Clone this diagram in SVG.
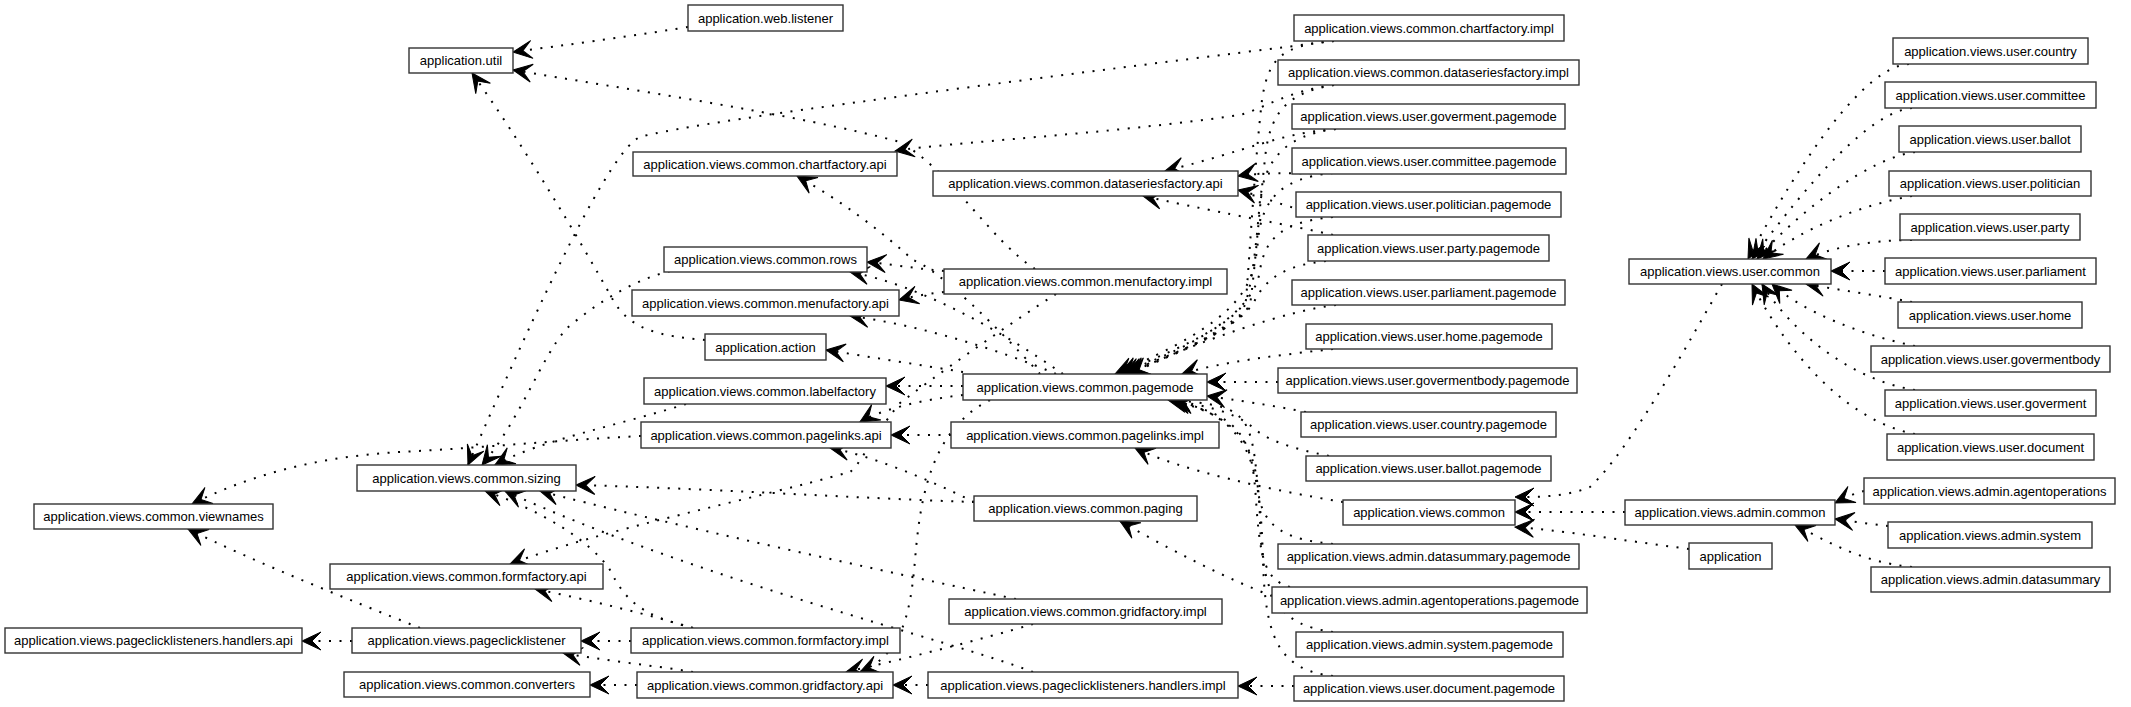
<svg xmlns="http://www.w3.org/2000/svg" width="2131" height="707" viewBox="0 0 2131 707">
<defs>
<style>
.n rect{fill:#fff;stroke:#333;stroke-width:1.4}
.n text{font-family:"Liberation Sans",Arial,sans-serif;font-size:13px;fill:#000;text-anchor:middle}
.e path{fill:none;stroke:#000;stroke-width:2;stroke-dasharray:2 8.5;marker-end:url(#vee)}
</style>
<marker id="vee" markerUnits="userSpaceOnUse" markerWidth="22" markerHeight="20" refX="19" refY="9" orient="auto" overflow="visible">
<path d="M0,0 L19,9 L0,18 L9,9 Z" fill="#000" stroke="#000" stroke-width="1" stroke-linejoin="miter"/>
</marker>
</defs>
<rect width="2131" height="707" fill="#fff"/>
<g id="edges" class="e">
<path d="M1909,64 C1865,66 1800,160 1748,259"/>
<path d="M1912,108 C1870,112 1810,180 1752,259"/>
<path d="M1915,152 C1870,158 1800,210 1757,259"/>
<path d="M1912,196 C1860,205 1800,230 1763,259"/>
<path d="M1912,240 C1870,240 1830,248 1806,259"/>
<path d="M1885,271 L1831,271"/>
<path d="M1912,302 C1880,296 1840,290 1806,284"/>
<path d="M1915,346 C1860,335 1800,310 1772,284"/>
<path d="M1915,390 C1850,380 1790,330 1762,284"/>
<path d="M1915,434 C1840,420 1780,340 1752,284"/>
<path d="M1722,284 C1690,340 1630,450 1590,487 C1565,497 1540,497 1515,497"/>
<path d="M1625,512 L1515,512"/>
<path d="M1689,549 C1620,540 1560,530 1515,527"/>
<path d="M1864,491 C1855,493 1845,498 1835,503"/>
<path d="M1888,526 C1870,524 1850,521 1835,519"/>
<path d="M1912,567 C1860,562 1825,540 1795,525"/>
<path d="M1343,502 C1270,490 1180,470 1135,448"/>
<path d="M1334,41 C1100,70 700,120 640,137 C610,150 540,300 468,465"/>
<path d="M1334,41 C1280,45 1268,60 1262,100 C1255,160 1250,250 1246,300 C1230,330 1160,355 1120,374"/>
<path d="M1334,85 C1290,90 1260,110 1240,115 C1100,135 950,142 895,151"/>
<path d="M1334,85 C1290,92 1272,110 1266,150 C1260,200 1255,270 1250,305 C1230,335 1165,358 1125,374"/>
<path d="M1336,129 C1280,133 1250,150 1165,171"/>
<path d="M1336,129 C1285,135 1265,160 1260,200 C1255,260 1250,300 1240,315 C1210,340 1160,360 1130,374"/>
<path d="M1333,173 C1290,174 1260,172 1238,176"/>
<path d="M1333,173 C1280,178 1262,200 1258,240 C1254,290 1240,320 1115,374"/>
<path d="M1333,217 C1290,210 1260,195 1238,190"/>
<path d="M1333,217 C1280,222 1265,240 1260,270 C1255,310 1200,345 1118,374"/>
<path d="M1333,235 C1290,225 1230,215 1143,196"/>
<path d="M1326,261 C1290,265 1268,275 1255,300 C1240,330 1170,355 1122,374"/>
<path d="M1336,305 C1290,310 1200,340 1128,374"/>
<path d="M1333,349 C1280,355 1220,362 1182,374"/>
<path d="M1278,382 L1207,382"/>
<path d="M1306,412 C1270,405 1235,400 1207,396"/>
<path d="M1329,456 C1290,448 1265,440 1250,425 C1230,410 1200,405 1170,400"/>
<path d="M1333,544 C1290,540 1262,530 1258,490 C1254,440 1250,420 1230,410 C1210,402 1190,402 1172,400"/>
<path d="M1290,587 C1265,580 1260,560 1256,500 C1252,440 1245,415 1168,400"/>
<path d="M1272,596 C1230,580 1170,550 1120,521"/>
<path d="M1333,632 C1280,625 1262,600 1260,520 C1258,450 1248,420 1172,400"/>
<path d="M1333,676 C1280,670 1265,640 1263,560 C1260,460 1250,420 1175,400"/>
<path d="M1294,686 L1238,686"/>
<path d="M688,27 C620,38 565,45 513,52"/>
<path d="M1035,269 C990,240 950,170 900,142 C800,115 620,88 513,70"/>
<path d="M705,340 C660,336 630,330 613,300 C580,240 520,140 472,73"/>
<path d="M944,271 C910,268 890,264 867,262"/>
<path d="M944,292 C925,294 910,297 899,300"/>
<path d="M1063,374 C1000,330 920,285 850,272"/>
<path d="M1056,374 C1000,350 920,325 850,316"/>
<path d="M963,372 C920,365 870,357 826,350"/>
<path d="M963,386 L886,386"/>
<path d="M963,395 C920,400 880,410 860,422"/>
<path d="M951,435 L891,435"/>
<path d="M974,502 C930,480 870,455 830,448"/>
<path d="M974,502 C850,498 700,488 576,485"/>
<path d="M1016,599 C900,575 650,520 540,491"/>
<path d="M693,628 C640,615 625,600 610,570 C590,540 540,510 485,491"/>
<path d="M1033,672 C950,640 700,580 505,491"/>
<path d="M693,628 C650,615 590,600 535,589"/>
<path d="M631,641 L581,641"/>
<path d="M693,672 C650,665 600,660 563,653"/>
<path d="M637,685 L590,685"/>
<path d="M928,685 L893,685"/>
<path d="M1033,624 C980,640 900,660 846,672"/>
<path d="M352,641 L302,641"/>
<path d="M420,628 C350,600 250,560 188,529"/>
<path d="M641,436 C560,440 480,448 400,452 C330,456 260,470 192,504"/>
<path d="M686,404 C620,425 540,440 495,465"/>
<path d="M680,269 C640,276 600,300 566,329 C540,360 520,420 482,465"/>
<path d="M1056,294 C1000,330 930,380 900,403 C870,440 860,465 850,472 C750,500 600,530 510,564"/>
<path d="M990,400 C930,430 920,500 915,560 C910,620 900,655 860,672"/>
<path d="M1040,374 C1000,330 940,270 913,260 C880,230 840,200 797,176"/>
</g>
<g id="n-util" class="n"><rect x="409" y="48" width="104" height="25"/><text x="461" y="65">application.util</text></g>
<g id="n-web-listener" class="n"><rect x="688" y="5" width="155" height="26"/><text x="765.5" y="22.5">application.web.listener</text></g>
<g id="n-chartfactory-impl" class="n"><rect x="1294" y="15" width="270" height="26"/><text x="1429" y="32.5">application.views.common.chartfactory.impl</text></g>
<g id="n-dataseriesfactory-impl" class="n"><rect x="1278" y="60" width="301" height="25"/><text x="1428.5" y="77">application.views.common.dataseriesfactory.impl</text></g>
<g id="n-goverment-pagemode" class="n"><rect x="1292" y="104" width="273" height="25"/><text x="1428.5" y="121">application.views.user.goverment.pagemode</text></g>
<g id="n-committee-pagemode" class="n"><rect x="1292" y="148" width="274" height="26"/><text x="1429" y="165.5">application.views.user.committee.pagemode</text></g>
<g id="n-politician-pagemode" class="n"><rect x="1296" y="192" width="265" height="25"/><text x="1428.5" y="209">application.views.user.politician.pagemode</text></g>
<g id="n-party-pagemode" class="n"><rect x="1308" y="235" width="241" height="26"/><text x="1428.5" y="252.5">application.views.user.party.pagemode</text></g>
<g id="n-parliament-pagemode" class="n"><rect x="1292" y="280" width="273" height="25"/><text x="1428.5" y="297">application.views.user.parliament.pagemode</text></g>
<g id="n-home-pagemode" class="n"><rect x="1306" y="324" width="246" height="25"/><text x="1429" y="341">application.views.user.home.pagemode</text></g>
<g id="n-govermentbody-pagemode" class="n"><rect x="1278" y="368" width="299" height="25"/><text x="1427.5" y="385">application.views.user.govermentbody.pagemode</text></g>
<g id="n-country-pagemode" class="n"><rect x="1301" y="412" width="255" height="25"/><text x="1428.5" y="429">application.views.user.country.pagemode</text></g>
<g id="n-ballot-pagemode" class="n"><rect x="1306" y="456" width="245" height="25"/><text x="1428.5" y="473">application.views.user.ballot.pagemode</text></g>
<g id="n-admin-datasummary-pagemode" class="n"><rect x="1278" y="544" width="301" height="25"/><text x="1428.5" y="561">application.views.admin.datasummary.pagemode</text></g>
<g id="n-admin-agentoperations-pagemode" class="n"><rect x="1272" y="587" width="315" height="26"/><text x="1429.5" y="604.5">application.views.admin.agentoperations.pagemode</text></g>
<g id="n-admin-system-pagemode" class="n"><rect x="1296" y="632" width="267" height="25"/><text x="1429.5" y="649">application.views.admin.system.pagemode</text></g>
<g id="n-document-pagemode" class="n"><rect x="1294" y="676" width="270" height="25"/><text x="1429" y="693">application.views.user.document.pagemode</text></g>
<g id="n-chartfactory-api" class="n"><rect x="633" y="152" width="264" height="24"/><text x="765" y="168.5">application.views.common.chartfactory.api</text></g>
<g id="n-dataseriesfactory-api" class="n"><rect x="933" y="171" width="305" height="25"/><text x="1085.5" y="188">application.views.common.dataseriesfactory.api</text></g>
<g id="n-rows" class="n"><rect x="664" y="247" width="203" height="25"/><text x="765.5" y="264">application.views.common.rows</text></g>
<g id="n-menufactory-api" class="n"><rect x="632" y="290" width="267" height="26"/><text x="765.5" y="307.5">application.views.common.menufactory.api</text></g>
<g id="n-menufactory-impl" class="n"><rect x="944" y="269" width="283" height="25"/><text x="1085.5" y="286">application.views.common.menufactory.impl</text></g>
<g id="n-action" class="n"><rect x="705" y="334" width="121" height="26"/><text x="765.5" y="351.5">application.action</text></g>
<g id="n-labelfactory" class="n"><rect x="644" y="378" width="242" height="26"/><text x="765" y="395.5">application.views.common.labelfactory</text></g>
<g id="n-common-pagemode" class="n"><rect x="963" y="374" width="244" height="26"/><text x="1085" y="391.5">application.views.common.pagemode</text></g>
<g id="n-pagelinks-api" class="n"><rect x="641" y="422" width="250" height="26"/><text x="766" y="439.5">application.views.common.pagelinks.api</text></g>
<g id="n-pagelinks-impl" class="n"><rect x="951" y="422" width="268" height="26"/><text x="1085" y="439.5">application.views.common.pagelinks.impl</text></g>
<g id="n-sizing" class="n"><rect x="357" y="465" width="219" height="26"/><text x="466.5" y="482.5">application.views.common.sizing</text></g>
<g id="n-viewnames" class="n"><rect x="34" y="504" width="239" height="25"/><text x="153.5" y="521">application.views.common.viewnames</text></g>
<g id="n-paging" class="n"><rect x="974" y="496" width="223" height="25"/><text x="1085.5" y="513">application.views.common.paging</text></g>
<g id="n-views-common" class="n"><rect x="1343" y="500" width="172" height="25"/><text x="1429" y="517">application.views.common</text></g>
<g id="n-formfactory-api" class="n"><rect x="330" y="564" width="273" height="25"/><text x="466.5" y="581">application.views.common.formfactory.api</text></g>
<g id="n-gridfactory-impl" class="n"><rect x="949" y="599" width="273" height="25"/><text x="1085.5" y="616">application.views.common.gridfactory.impl</text></g>
<g id="n-handlers-api" class="n"><rect x="5" y="628" width="297" height="25"/><text x="153.5" y="645">application.views.pageclicklisteners.handlers.api</text></g>
<g id="n-pageclicklistener" class="n"><rect x="352" y="628" width="229" height="25"/><text x="466.5" y="645">application.views.pageclicklistener</text></g>
<g id="n-formfactory-impl" class="n"><rect x="631" y="628" width="269" height="25"/><text x="765.5" y="645">application.views.common.formfactory.impl</text></g>
<g id="n-converters" class="n"><rect x="344" y="672" width="246" height="25"/><text x="467" y="689">application.views.common.converters</text></g>
<g id="n-gridfactory-api" class="n"><rect x="637" y="672" width="256" height="26"/><text x="765" y="689.5">application.views.common.gridfactory.api</text></g>
<g id="n-handlers-impl" class="n"><rect x="928" y="672" width="310" height="26"/><text x="1083" y="689.5">application.views.pageclicklisteners.handlers.impl</text></g>
<g id="n-user-common" class="n"><rect x="1629" y="259" width="202" height="25"/><text x="1730" y="276">application.views.user.common</text></g>
<g id="n-user-country" class="n"><rect x="1893" y="38" width="195" height="26"/><text x="1990.5" y="55.5">application.views.user.country</text></g>
<g id="n-user-committee" class="n"><rect x="1885" y="82" width="211" height="26"/><text x="1990.5" y="99.5">application.views.user.committee</text></g>
<g id="n-user-ballot" class="n"><rect x="1899" y="126" width="182" height="26"/><text x="1990" y="143.5">application.views.user.ballot</text></g>
<g id="n-user-politician" class="n"><rect x="1889" y="171" width="202" height="25"/><text x="1990" y="188">application.views.user.politician</text></g>
<g id="n-user-party" class="n"><rect x="1900" y="214" width="180" height="26"/><text x="1990" y="231.5">application.views.user.party</text></g>
<g id="n-user-parliament" class="n"><rect x="1885" y="258" width="211" height="26"/><text x="1990.5" y="275.5">application.views.user.parliament</text></g>
<g id="n-user-home" class="n"><rect x="1898" y="302" width="184" height="26"/><text x="1990" y="319.5">application.views.user.home</text></g>
<g id="n-user-govermentbody" class="n"><rect x="1871" y="346" width="239" height="26"/><text x="1990.5" y="363.5">application.views.user.govermentbody</text></g>
<g id="n-user-goverment" class="n"><rect x="1885" y="390" width="211" height="26"/><text x="1990.5" y="407.5">application.views.user.goverment</text></g>
<g id="n-user-document" class="n"><rect x="1887" y="434" width="207" height="26"/><text x="1990.5" y="451.5">application.views.user.document</text></g>
<g id="n-admin-common" class="n"><rect x="1625" y="500" width="210" height="25"/><text x="1730" y="517">application.views.admin.common</text></g>
<g id="n-application" class="n"><rect x="1689" y="543" width="83" height="26"/><text x="1730.5" y="560.5">application</text></g>
<g id="n-admin-agentoperations" class="n"><rect x="1864" y="478" width="251" height="26"/><text x="1989.5" y="495.5">application.views.admin.agentoperations</text></g>
<g id="n-admin-system" class="n"><rect x="1888" y="522" width="204" height="26"/><text x="1990" y="539.5">application.views.admin.system</text></g>
<g id="n-admin-datasummary" class="n"><rect x="1871" y="567" width="239" height="25"/><text x="1990.5" y="584">application.views.admin.datasummary</text></g>
</svg>
